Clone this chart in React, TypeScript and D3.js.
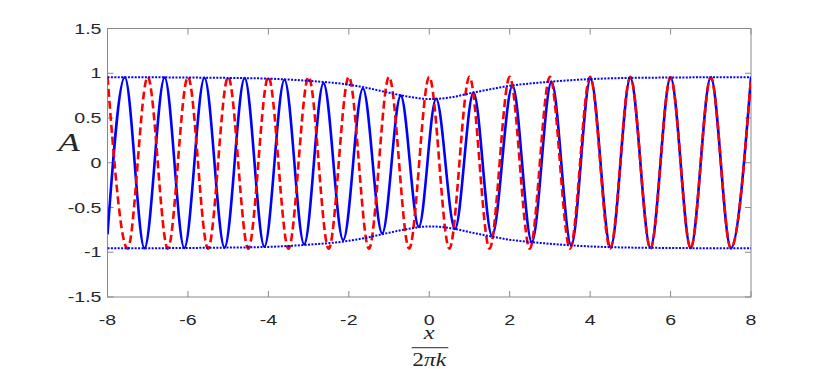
import React from "react";
import * as d3 from "d3";

// ---- data ----
const xTicks = [-8, -6, -4, -2, 0, 2, 4, 6, 8];
const yTicks = [-1.5, -1, -0.5, 0, 0.5, 1, 1.5];
const yTickLabels = ["-1.5", "-1", "-0.5", "0", "0.5", "1", "1.5"];

// blue solid curve: start point + successive extrema (x, A)
const blueX = [-8, -7.57, -7.08, -6.58, -6.09, -5.59, -5.09, -4.59, -4.1, -3.6, -3.11, -2.63, -2.14, -1.65, -1.17, -0.71, -0.26, 0.17, 0.64, 1.1, 1.56, 2.07, 2.55, 3.04, 3.53, 4.01, 4.51, 5.0, 5.5, 6.0, 6.5, 7.0, 7.5, 8.0];
const blueA = [-0.8, 0.955, -0.955, 0.952, -0.952, 0.95, -0.948, 0.945, -0.938, 0.927, -0.91, 0.89, -0.865, 0.83, -0.79, 0.75, -0.715, 0.715, -0.74, 0.785, -0.815, 0.862, -0.887, 0.905, -0.922, 0.935, -0.942, 0.948, -0.95, 0.952, -0.953, 0.955, -0.955, 0.955];

// red dashed curve: successive extrema (x, A)
const redX = [-8, -7.5, -7, -6.5, -6, -5.5, -5, -4.5, -4, -3.5, -3, -2.5, -2, -1.5, -1, -0.5, 0, 0.5, 1, 1.5, 2, 2.5, 3, 3.5, 4, 4.5, 5, 5.5, 6, 6.5, 7, 7.5, 8];
const redA = [0.96, -0.96, 0.96, -0.96, 0.96, -0.96, 0.96, -0.96, 0.96, -0.96, 0.96, -0.96, 0.96, -0.96, 0.96, -0.96, 0.96, -0.96, 0.96, -0.96, 0.96, -0.96, 0.96, -0.96, 0.96, -0.96, 0.96, -0.96, 0.955, -0.955, 0.955, -0.955, 0.955];

// blue dotted envelope
const envX = [-8, -7, -6, -5, -4, -3, -2, -1.5, -1, -0.5, 0, 0.5, 1, 1.5, 2, 2.5, 3, 4, 5, 6, 7, 8];
const envUpper = [0.955, 0.955, 0.952, 0.948, 0.94, 0.915, 0.872, 0.832, 0.782, 0.737, 0.712, 0.728, 0.775, 0.82, 0.86, 0.885, 0.905, 0.935, 0.948, 0.952, 0.955, 0.955];
const envLower = [-0.955, -0.955, -0.952, -0.948, -0.94, -0.915, -0.872, -0.832, -0.782, -0.737, -0.712, -0.728, -0.775, -0.82, -0.86, -0.885, -0.905, -0.935, -0.948, -0.952, -0.955, -0.955];

const W = 830;
const H = 369;
const L = 107.5, R = 751, T = 28.5, B = 297;
const SX = 1.35; // horizontal stretch of the reference's text

export default function App() {
  const x = d3.scaleLinear().domain([-8, 8]).range([L, R]);
  const y = d3.scaleLinear().domain([-1.5, 1.5]).range([B, T]);
  const line = d3
    .line<[number, number]>()
    .x((d) => x(d[0]))
    .y((d) => y(d[1]))
    .curve(d3.curveMonotoneX);

  const blue = line(blueX.map((v, i) => [v, blueA[i]] as [number, number])) || "";
  const red = line(redX.map((v, i) => [v, redA[i]] as [number, number])) || "";
  const up = line(envX.map((v, i) => [v, envUpper[i]] as [number, number])) || "";
  const lo = line(envX.map((v, i) => [v, envLower[i]] as [number, number])) || "";

  const axisColor = "#8a8a8a";
  const textColor = "#262626";
  const tickLen = 6;
  const font = "'Liberation Sans', Arial, Helvetica, sans-serif";
  const serif = "'Liberation Serif', 'Times New Roman', serif";
  const fs = 14.5;

  return (
    <svg
      width={W}
      height={H}
      viewBox={`0 0 ${W} ${H}`}
      style={{ position: "absolute", left: 0, top: 0, background: "#fff" }}
    >
      <rect x={0} y={0} width={W} height={H} fill="#fff" />
      <defs>
        <clipPath id="plotclip">
          <rect x={L} y={T} width={R - L} height={B - T} />
        </clipPath>
      </defs>
      {/* ticks */}
      {xTicks.map((t) => (
        <g key={"xt" + t}>
          <line x1={x(t)} x2={x(t)} y1={B} y2={B - tickLen} stroke={axisColor} strokeWidth={1} />
          <line x1={x(t)} x2={x(t)} y1={T} y2={T + tickLen} stroke={axisColor} strokeWidth={1} />
          <text
            transform={`translate(${x(t)},324.5) scale(${SX},1)`}
            textAnchor="middle"
            fontFamily={font}
            fontSize={fs}
            fill={textColor}
          >
            {String(t)}
          </text>
        </g>
      ))}
      {yTicks.map((t, i) => (
        <g key={"yt" + t}>
          <line x1={L} x2={L + tickLen} y1={y(t)} y2={y(t)} stroke={axisColor} strokeWidth={1} />
          <line x1={R} x2={R - tickLen} y1={y(t)} y2={y(t)} stroke={axisColor} strokeWidth={1} />
          <text
            transform={`translate(101.5,${y(t) + 5.2}) scale(${SX},1)`}
            textAnchor="end"
            fontFamily={font}
            fontSize={fs}
            fill={textColor}
          >
            {yTickLabels[i]}
          </text>
        </g>
      ))}
      <rect x={L} y={T} width={R - L} height={B - T} fill="none" stroke={axisColor} strokeWidth={1} />

      <g clipPath="url(#plotclip)">
        <path d={blue} fill="none" stroke="#0000ff" strokeWidth={2.6} />
        <path d={red} fill="none" stroke="#ff0000" strokeWidth={2.6} strokeDasharray="8 4" />
        <path d={up} fill="none" stroke="#0000ff" strokeWidth={2} strokeDasharray="2 1.4" />
        <path d={lo} fill="none" stroke="#0000ff" strokeWidth={2} strokeDasharray="2 1.4" />
      </g>

      {/* y label */}
      <text
        transform={`translate(69,151) scale(${SX},1)`}
        textAnchor="middle"
        fontFamily={serif}
        fontStyle="italic"
        fontSize={26}
        fill={textColor}
      >
        A
      </text>

      {/* x label: x / (2πk) */}
      <text
        transform={`translate(${x(0)},339) scale(${SX},1)`}
        textAnchor="middle"
        fontFamily={serif}
        fontStyle="italic"
        fontSize={18}
        fill={textColor}
      >
        x
      </text>
      <line x1={411.7} x2={448.3} y1={347.7} y2={347.7} stroke={textColor} strokeWidth={1} />
      <text
        transform={`translate(${x(0)},366) scale(1.3,1)`}
        textAnchor="middle"
        fontFamily={serif}
        fontSize={18}
        fill={textColor}
      >
        <tspan>2</tspan>
        <tspan fontStyle="italic">πk</tspan>
      </text>
    </svg>
  );
}
